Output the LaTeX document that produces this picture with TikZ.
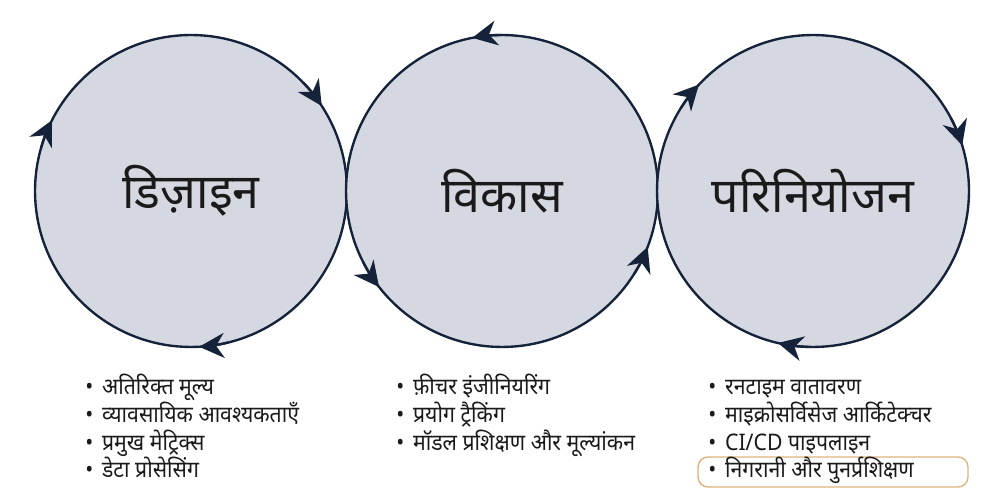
\documentclass[tikz,border=0pt]{standalone}
\usepackage{fontspec}
\usetikzlibrary{arrows.meta}
\newfontfamily\deva[Script=Devanagari]{Noto Sans}
\newfontfamily\devalist[Script=Devanagari, FakeStretch=0.93]{Noto Sans}
\definecolor{ringfill}{HTML}{D6D8E1}
\definecolor{ringline}{HTML}{15233A}
\definecolor{hlline}{HTML}{D8B67C}
\definecolor{txt}{HTML}{1A1A1A}

\tikzset{
  phase/.style={circle, draw=ringline, fill=ringfill, line width=1.35pt,
    minimum size=6.24cm, inner sep=0pt, text=txt, font=\deva\fontsize{27.5}{32}\selectfont},
  cyc/.style={draw=ringline, line width=1.35pt,
    -{Stealth[length=0.5cm, width=0.5cm, inset=0.16cm]}},
  item/.style={anchor=base west, inner sep=0pt, text=txt,
    font=\devalist\fontsize{13}{16}\selectfont},
  hlbox/.style={draw=hlline, line width=0.8pt, rounded corners=0.2cm,
    minimum width=5.4cm, minimum height=0.6cm, inner sep=0pt}
}

\begin{document}
\begin{tikzpicture}[x=0.02cm, y=0.02cm]
  \useasboundingbox (0,0) rectangle (1000,500);

  % three phases
  \node[phase] (design) at (191,309) {डिज़ाइन};
  \node[phase] (dev) at (502,309) {विकास};
  \node[phase] (deploy) at (813,309) {परिनियोजन};

  % arrow heads round the rings (1 = clockwise, -1 = counter clockwise)
  \foreach \c/\a/\s in {design/33/1, design/153/1, design/273/1,
                        dev/101/-1, dev/218/-1, dev/339/-1,
                        deploy/17/1, deploy/137/1, deploy/257/1}
    \draw[cyc] (\c.center) ++(\a+11*\s:156) arc[start angle=\a+11*\s, end angle=\a, radius=156];

  % highlight box
  \node[hlbox] (hl) at (833,28) {};

  % lists
  \foreach \t [count=\i] in {अतिरिक्त मूल्य, व्यावसायिक आवश्यकताएँ, प्रमुख मेट्रिक्स, डेटा प्रोसेसिंग}
    \node[item] (d\i) at (85,132.5-27.5*\i) {•\hspace{5pt}\t};
  \foreach \t [count=\i] in {फ़ीचर इंजीनियरिंग, प्रयोग ट्रैकिंग, मॉडल प्रशिक्षण और मूल्यांकन}
    \node[item] (v\i) at (396,132.5-27.5*\i) {•\hspace{5pt}\t};
  \foreach \t [count=\i] in {रनटाइम वातावरण, माइक्रोसर्विसेज आर्किटेक्चर, CI/CD पाइपलाइन, निगरानी और पुनर्प्रशिक्षण}
    \node[item] (p\i) at (708,132.5-27.5*\i) {•\hspace{5pt}\t};
\end{tikzpicture}
\end{document}
